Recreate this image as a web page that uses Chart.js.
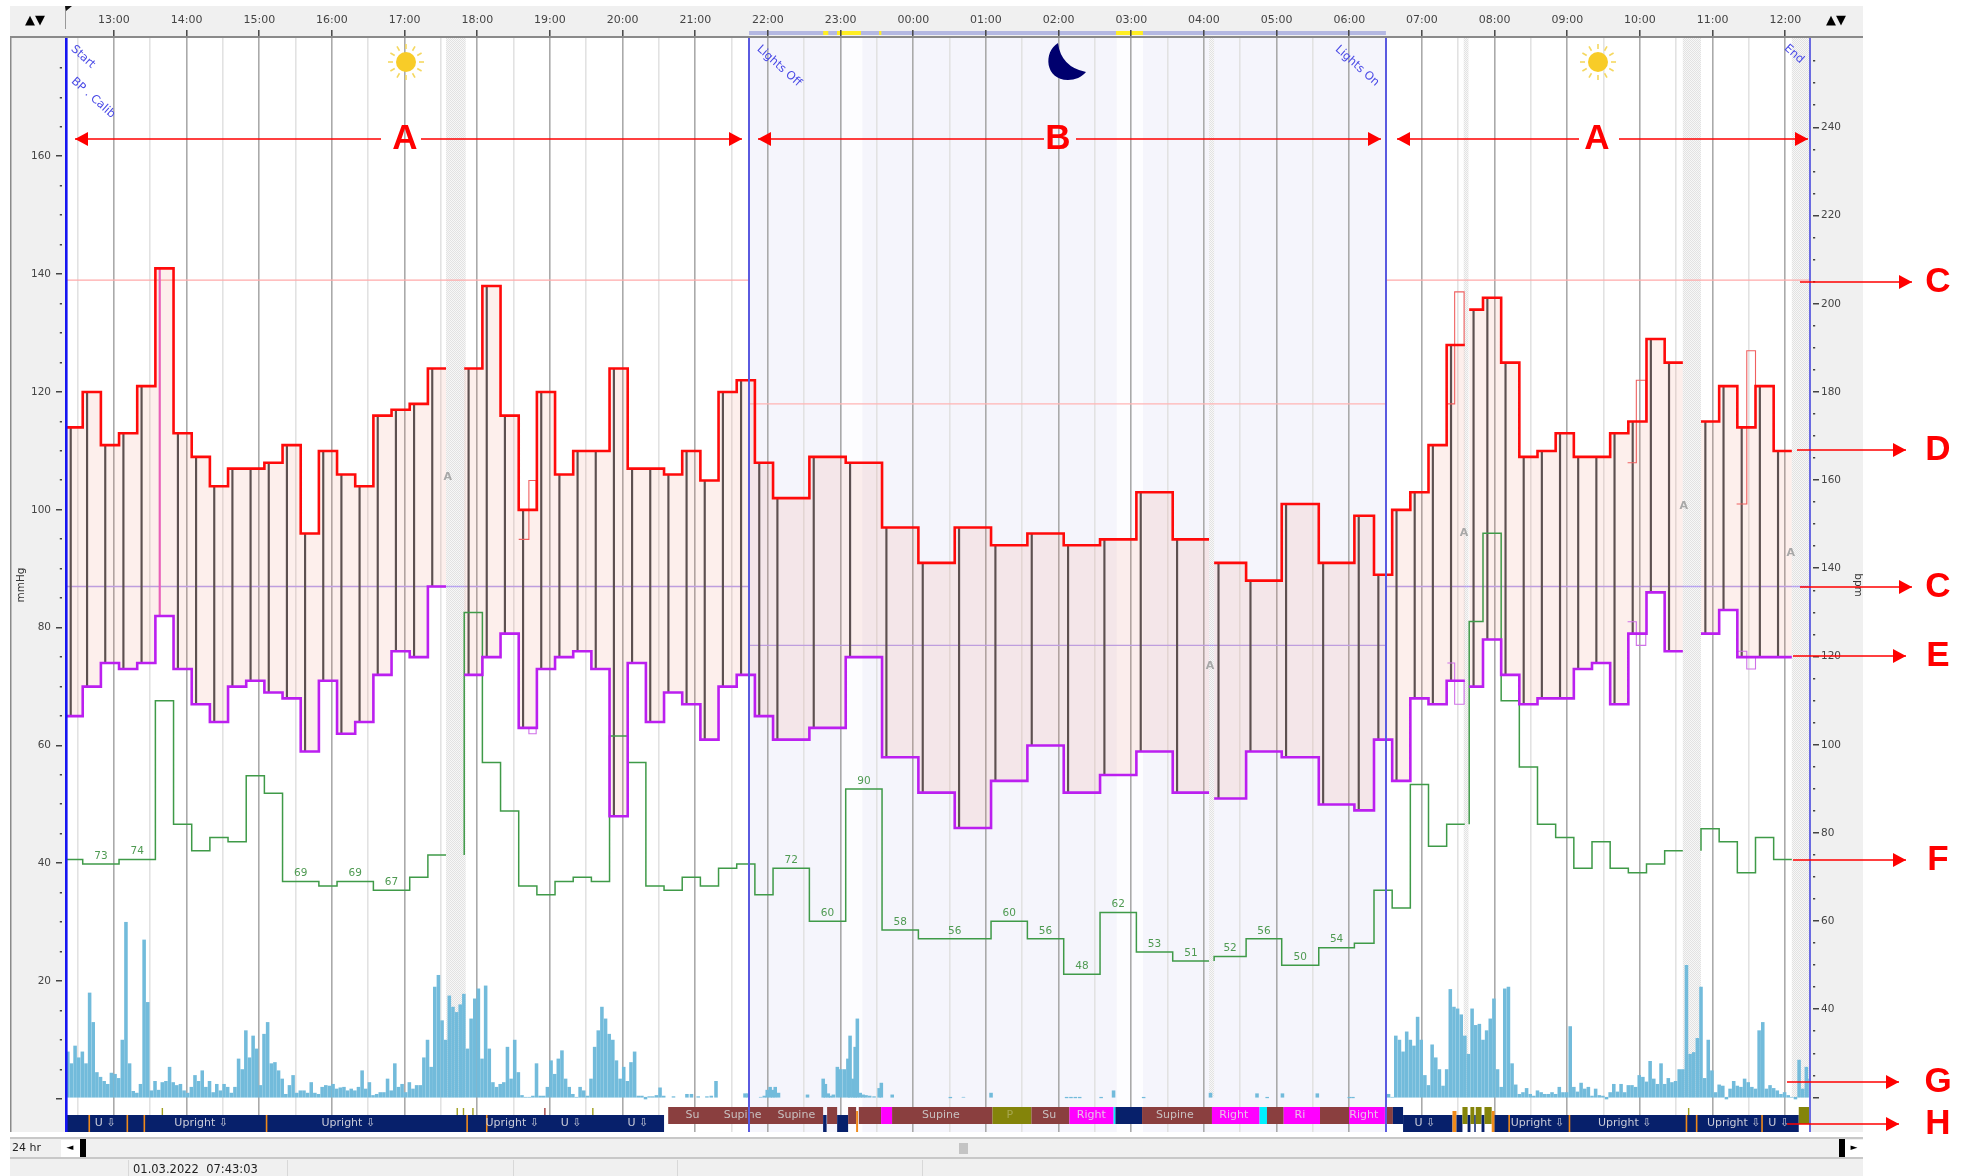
<!DOCTYPE html>
<html><head><meta charset="utf-8"><title>ABPM 24 hr</title>
<style>html,body{margin:0;padding:0;background:#fff}canvas{display:block}</style>
<script src="https://cdn.jsdelivr.net/npm/chart.js@4"></script></head>
<body><canvas id="c" width="1966" height="1176"></canvas>
<script>
// ---- readings (hours run on past 24 for the next morning) ----
const stepHours = [12.345,12.57,12.82,13.07,13.32,13.57,13.82,14.07,14.32,14.57,14.82,15.07,15.32,15.57,15.82,16.07,16.32,16.57,16.82,17.07,17.32,17.57,17.82,18.07,18.32,18.57,18.82,19.07,19.32,19.57,19.82,20.07,20.32,20.57,20.82,21.07,21.32,21.57,21.82,
 22.07,22.57,23.07,23.57,24.07,24.57,25.07,25.57,26.07,26.57,27.07,27.57,28.07,
 28.14,28.58,29.07,29.58,30.07,30.34,
 30.59,30.84,31.09,31.34,31.59,31.65,31.84,32.09,32.34,32.59,32.84,33.09,33.34,33.59,33.84,34.09,34.34,34.59,34.84,35.09,35.34,35.59,35.84];
const stepEnd = 36.09;
const systolic = [114,120,111,113,121,141,113,109,104,107,107,108,111,96,110,106,104,116,117,118,124,null,124,138,116,100,120,106,110,110,124,107,107,106,110,105,120,122,108,
 102,109,108,97,91,97,94,96,94,95,103,95,null,
 91,88,101,91,99,89,
 100,103,111,128,null,134,136,125,109,110,113,109,109,113,115,129,125,null,115,121,114,121,110];
const diastolic = [65,70,74,73,74,82,73,67,64,70,71,69,68,59,71,62,64,72,76,75,87,null,72,75,79,63,73,75,76,73,48,74,64,69,67,61,70,72,65,
 61,63,75,58,52,46,54,60,52,55,59,52,null,
 51,59,58,50,49,61,
 54,68,67,71,null,70,78,72,67,68,68,73,74,67,79,86,76,null,79,83,75,75,75];
const heartRate = [74,73,73,74,74,110,82,76,79,78,93,89,69,69,68,69,69,67,67,70,75,null,130,96,85,68,66,69,70,69,102,96,68,67,70,68,72,73,66,
 72,60,90,58,56,56,60,56,48,62,53,51,null,
 52,56,50,54,55,67,
 63,91,77,82,null,128,148,110,95,82,79,72,78,72,71,73,76,null,81,78,71,79,74];
const hrLabelIndex = [1,3,12,15,17,39,40,41,42,43,45,46,47,48,49,50,52,53,54,55];
const hrLabelSpan  = [2,2,2,2,2,1,1,1,1,2,1,1,1,1,1,1,1,1,1,1];
// excluded readings, thin outlines
const excludedHours = [18.57,18.71,18.81,18.81,null,31.35,31.45,31.58,31.58,null,33.83,33.95,34.08,34.08,null,35.33,35.47,35.59,35.59];
const excludedSys   = [95,105,105,100,null,118,137,137,128,null,108,122,122,115,null,101,127,127,121];
const excludedDia   = [63,62,62,63,null,74,67,67,71,null,81,77,77,79,null,76,73,73,75];
// activity, 3 minute bins
const activityDayStart = 12.365, activityMorningStart = 30.54, activityStep = 0.05;
const activityDay = [8,6,9,7,8,6,18,13,4.5,3.7,3,2.5,4.4,4.2,3.5,10,30,6,1.3,1,2.5,27,16.4,1.4,3,1.5,2.8,3,5.4,2.8,2.3,2.5,1.4,1,2,4,3,4.8,2,3,1.1,2.5,1.4,2.5,2,1,2,6.8,5,11.6,7,10.7,8.5,2.3,11,13,6,6.2,4.8,3.4,.8,2.3,4,1,1.4,1.4,1,2.8,1,.8,2,2.3,2.2,2.5,1.7,1.9,2,1.4,1.7,1.4,2,4.8,1.7,2.8,.6,.8,1.1,1.1,3.4,1.4,6,2,2.5,1.1,2.8,1.7,2.3,2.3,7,10,5.4,19,21,13.3,10,17.5,15.6,14.7,16,17.8,8.5,13.6,17,18.7,6.8,19.2,8.5,2.8,2,2.5,2.8,8.8,3.4,10,4.5,.6,.3,.3,.5,6,.5,.5,2,6.5,4.2,6.8,8.2,3.4,2,.8,.3,2,1.4,.5,3.4,8.8,11.6,15.6,13.6,11,10,6.5,3.4,5.4,3,6.2,8,.5,.5,0,.4,.4,.6,1.9,.5];
const activityNightHours = [20.70,20.885,20.947,21.04,21.16,21.22,21.285,21.684,21.727,21.90,21.95,21.99,22.03,22.065,22.10,22.145,22.544,22.76,22.79,22.83,22.86,22.90,22.955,23.0,23.05,23.10,23.13,23.17,23.2,23.23,23.27,23.31,23.35,23.4,23.46,23.53,23.56,23.71,24.51,24.69,25.07,26.11,26.17,26.23,26.29,26.585,26.756,27.17,28.09,28.73,28.87,29.08,29.56,30.0,30.05];
const activityNight = [.4,.8,.8,.4,.4,.5,3,.9,.9,.3,.5,1.5,2,1.5,2,1,.7,3.4,2.5,.9,.5,.7,5.4,5,5,6.8,10.7,3.4,8.8,13.6,1,.7,.6,.5,.4,1.8,2.7,.7,.2,.3,1,.2,.2,.2,.2,.2,1.4,.2,1,.9,.2,.9,.9,.2,.2];
const activityMorning = [.8,.3,10.7,10,8,11.4,10,9,13.9,10,4,2.3,9.2,7,5,2.2,5,18.6,15.6,15.3,14.3,10.7,7.6,15.3,12.5,12.7,10,11.6,13.6,17,5,2,18.7,19,6,2.4,.8,1.1,1.8,.8,.5,1.4,1.1,.8,.8,1.1,.8,2,1.1,1.1,12.3,2,1.2,2.7,1.7,2,.5,1.7,.6,.5,0,1.1,2.5,1.2,2.5,1.1,2.3,2.3,2,4,3.7,2.9,6.4,3.4,2.5,6,2.5,3.5,2.8,3,5,5,22.7,7.6,7.9,10.3,19,3.5,10,4.8,1.1,2.4,2.2,0,1.7,3,2.2,2,3.4,2.8,2,1.7,11.6,13,1.7,2.3,1.8,1.4,.8,1.1,.6,.3,0,6.6,1.7,5.4,3.4];
// period limits and thresholds
const axisStart = 12.34, axisEnd = 36.34, lightsOff = 21.74, lightsOn = 30.504;
const sysDayLimit = 139, diaDayLimit = 87, sysNightLimit = 118, diaNightLimit = 77;
const eventHours = [axisStart,lightsOff,lightsOn,axisEnd];
const hatchStart = [17.57,28.07,31.575,34.59,36.09];
const hatchEnd   = [17.84,28.14,31.64,34.84,36.34];
const dimStart = [23.02,26.80], dimEnd = [23.30,27.16];
const yellowStart = [22.76,22.95,23.53,26.79], yellowEnd = [22.83,23.28,23.56,27.16];
const artifactHours = [17.594,28.083,31.577,34.603,36.075];
const artifactMmHg  = [105.6,73.5,96.1,100.7,92.7];
// body position strip
const posStart = [12.345,20.627,22.759,22.814,22.952,23.103,23.213,23.25,23.557,23.708,25.09,25.626,26.149,26.757,26.782,27.148,28.11,28.765,28.867,29.097,29.597,29.996,30.504,30.6,30.74,31.42,31.475,31.557,31.628,31.667,31.72,31.74,31.82,31.86,31.96,32.0,36.185];
const posEnd   = [20.57,22.759,22.807,22.952,23.103,23.213,23.24,23.557,23.708,25.09,25.626,26.149,26.757,26.782,27.148,28.11,28.765,28.867,29.097,29.597,29.996,30.49,30.6,30.74,31.42,31.475,31.557,31.628,31.667,31.72,31.74,31.82,31.86,31.96,32.0,36.185,36.34];
const posKind  = ['U','S','U','S','U','S','O','S','R','S','P','S','R','C','N','S','R','C','S','R','S','R','S','N','U','O','U','P','U','P','U','P','U','P','O','U','P'];
const posMarkHours = [12.66,13.184,13.418,15.1,17.86,18.13,32.2,33.03,34.78,35.68,34.64];
const posTickHours = [13.666,17.724,17.81,17.94,19.59,34.67,18.93];
const posLabelHours = [12.88,14.2,16.225,18.48,19.29,20.21,20.96,21.65,22.39,24.38,25.33,25.87,26.45,27.6,28.41,29.32,30.2,31.04,32.59,33.79,35.29,35.91];
const posLabels = ['U ⇩','Upright ⇩','Upright ⇩','Upright ⇩','U ⇩','U ⇩','Su','Supine','Supine','Supine','P','Su','Right','Supine','Right','Ri','Right','U ⇩','Upright ⇩','Upright ⇩','Upright ⇩','U ⇩'];
const posLabelKind = ['U','U','U','U','U','U','S','S','S','S','P','S','R','S','R','R','R','U','U','U','U','U'];

// ---- helpers ----
const FONT = '"DejaVu Sans"';
function hourLabel(h){ const v=((h%24)+24)%24; return String(v).padStart(2,'0')+':00'; }
function steps(vals, stub){
  const out=[];
  vals.forEach((v,i)=>{
    const t=stepHours[i];
    if(v===null){ out.push({x:t,y:null}); return; }
    if(stub && i>1 && vals[i-1]===null) out.push({x:t,y:vals[i-2]});
    out.push({x:t,y:v});
    const next = i+1<vals.length ? stepHours[i+1] : stepEnd;
    if(i+1>=vals.length || vals[i+1]===null) out.push({x:next,y:v});
  });
  return out;
}
const pairs=(xs,ys)=>xs.map((x,i)=>({x:x===null?excludedHours[i-1]:x,y:ys[i]}));
const stems=stepHours.map((t,i)=>systolic[i]===null?null:{x:t+0.06,y:[diastolic[i],systolic[i]]}).filter(Boolean);
const stemPink=5;
const activityPts=[
  ...activityDay.map((v,i)=>({x:activityDayStart+i*activityStep,y:v})),
  ...activityNight.map((v,i)=>({x:activityNightHours[i],y:v})),
  ...activityMorning.map((v,i)=>({x:activityMorningStart+i*activityStep,y:v}))
];
const limitLine=(a,b,v)=>[{x:a,y:v},{x:b,y:v}];

const POS={U:'#07206b',N:'#07206b',S:'#8a3f3f',R:'#ff00ff',P:'#84840a',C:'#00f0ff',O:'#f08a1a'};

function makeHatch(ctx){
  const c=document.createElement('canvas');c.width=c.height=4;const g=c.getContext('2d');
  g.fillStyle='#f7f7f7';g.fillRect(0,0,4,4);g.fillStyle='#e2e2e2';
  g.fillRect(0,0,1,1);g.fillRect(2,0,1,1);g.fillRect(1,1,1,1);g.fillRect(3,1,1,1);g.fillRect(0,2,1,1);g.fillRect(2,2,1,1);g.fillRect(1,3,1,1);g.fillRect(3,3,1,1);
  return ctx.createPattern(c,'repeat');
}
function txt(ctx,s,x,y,font,color,align,base,rot){
  ctx.save();ctx.font=font;ctx.fillStyle=color;ctx.textAlign=align||'center';ctx.textBaseline=base||'middle';
  if(rot){ctx.translate(x,y);ctx.rotate(rot);ctx.fillText(s,0,0);}else ctx.fillText(s,x,y);
  ctx.restore();
}
function arrowHead(ctx,x,y,dir){
  ctx.beginPath();ctx.moveTo(x,y);ctx.lineTo(x-dir*13,y-7);ctx.lineTo(x-dir*13,y+7);ctx.closePath();ctx.fill();
}
function hArrow(ctx,x1,x2,y){
  ctx.strokeStyle='#ff0000';ctx.fillStyle='#ff0000';ctx.lineWidth=1.4;
  ctx.beginPath();ctx.moveTo(x1,y);ctx.lineTo(x2,y);ctx.stroke();
  arrowHead(ctx,x2,y,x2>x1?1:-1);
}
function sun(ctx,x,y){
  ctx.strokeStyle='#f5d860';ctx.lineWidth=1.6;
  for(let i=0;i<12;i++){const a=i*Math.PI/6;ctx.beginPath();ctx.moveTo(x+Math.cos(a)*13,y+Math.sin(a)*13);ctx.lineTo(x+Math.cos(a)*18,y+Math.sin(a)*18);ctx.stroke();}
  ctx.fillStyle='#f8cc28';ctx.beginPath();ctx.arc(x,y,10,0,Math.PI*2);ctx.fill();
}
function axisMarks(ctx,scale,x,dir){
  ctx.fillStyle='#444';
  scale.ticks.forEach(t=>{
    const y=scale.getPixelForValue(t.value);
    const major=t.value%20===0;
    const len=major?6:2.2;
    const px = dir<0 ? x-len : x;
    ctx.fillRect(px,Math.round(y)-1,len,1.5);
  });
}

const chromePlugin={
  id:'chrome',
  beforeDraw(chart){
    const ctx=chart.ctx,xs=chart.scales.x,a=chart.chartArea;
    ctx.save();
    ctx.fillStyle='#fff';ctx.fillRect(0,0,chart.width,chart.height);
    ctx.fillStyle='#f0f0f0';
    ctx.fillRect(10,6,1853,31);
    ctx.fillRect(10,37,a.left-10,a.bottom-37);
    ctx.fillRect(a.right,37,1863-a.right,a.bottom-37);
    ctx.fillRect(10,1139,1853,18);
    ctx.fillRect(10,1159,1853,17);
    // night
    const nL=xs.getPixelForValue(lightsOff),nR=xs.getPixelForValue(lightsOn);
    ctx.fillStyle='#f5f5fc';ctx.fillRect(nL,a.top,nR-nL,a.bottom-a.top);
    ctx.fillStyle='#fdfdff';
    dimStart.forEach((s,i)=>{const l=xs.getPixelForValue(s);ctx.fillRect(l,a.top,xs.getPixelForValue(dimEnd[i])-l,a.bottom-a.top);});
    // header period strip
    ctx.fillStyle='#b4b8e2';ctx.fillRect(nL,31,nR-nL,4);
    ctx.fillStyle='#ffee22';
    yellowStart.forEach((s,i)=>{const l=xs.getPixelForValue(s);ctx.fillRect(l,31,xs.getPixelForValue(yellowEnd[i])-l,4);});
    ctx.restore();
  },
  beforeDatasetsDraw(chart){
    const ctx=chart.ctx,xs=chart.scales.x,a=chart.chartArea;
    ctx.save();
    chart.$hatch=chart.$hatch||makeHatch(ctx);
    ctx.fillStyle=chart.$hatch;
    const b=chart.scales.y.getPixelForValue(0.3);
    hatchStart.forEach((s,i)=>{const l=xs.getPixelForValue(s);ctx.fillRect(l,a.top,xs.getPixelForValue(hatchEnd[i])-l,b-a.top);});
    ctx.restore();
  },
  afterDatasetsDraw(chart){
    const ctx=chart.ctx,xs=chart.scales.x,yl=chart.scales.y,yr=chart.scales.y1,a=chart.chartArea;
    ctx.save();
    // body position strip
    const upTop=1107,lowTop=1115,h=17;
    posTickHours.forEach((t,i)=>{const x=xs.getPixelForValue(t);ctx.fillStyle=i===6?'#a04040':'#a0a020';ctx.fillRect(x-.7,1108,1.4,8);ctx.fillStyle='#fff';ctx.fillRect(x-.7,1116,1.4,16);});
    posStart.forEach((s,i)=>{
      const k=posKind[i],l=xs.getPixelForValue(s),w=xs.getPixelForValue(posEnd[i])-l;
      if(k==='U'){ctx.fillStyle=POS.U;ctx.fillRect(l,lowTop,w,h);}
      else if(k==='O'){ctx.fillStyle=POS.O;ctx.fillRect(l,lowTop-4,w,h+4);}
      else{ctx.fillStyle=POS[k];ctx.fillRect(l,upTop,w,h);}
    });
    ctx.fillStyle=POS.O;
    posMarkHours.forEach(t=>ctx.fillRect(xs.getPixelForValue(t)-.8,lowTop,1.6,h));
    posLabels.forEach((s,i)=>{
      const k=posLabelKind[i];
      const col=k==='U'?'#c9cbd8':k==='S'?'#c8c0c0':k==='R'?'#e8c0e8':'#a8a850';
      txt(ctx,s,xs.getPixelForValue(posLabelHours[i]),k==='U'?1123.5:1115.5,'11px '+FONT,col);
    });
    // event lines
    const evCol=['#1515f0','#5a5ae0','#5a5ae0','#6a6ae0'];
    eventHours.forEach((t,i)=>{ctx.fillStyle=evCol[i];ctx.fillRect(Math.round(xs.getPixelForValue(t))-1,a.top,i===0?2.6:2,a.bottom-a.top);});
    // ticks at both value axes
    axisMarks(ctx,yl,a.left-4,-1);
    axisMarks(ctx,yr,a.right+3,1);
    // event names
    const r=Math.PI/4.3;
    txt(ctx,'Start',83,57,'11.5px '+FONT,'#4a4ae6','center','middle',r);
    txt(ctx,'BP . Calib',93,98,'11.5px '+FONT,'#4a4ae6','center','middle',r);
    txt(ctx,'Lights Off',779,66,'11.5px '+FONT,'#4a4ae6','center','middle',r);
    txt(ctx,'Lights On',1357,66,'11.5px '+FONT,'#4a4ae6','center','middle',r);
    txt(ctx,'End',1794,54,'11.5px '+FONT,'#4a4ae6','center','middle',r);
    // artefact flags
    artifactHours.forEach((t,i)=>txt(ctx,'A',xs.getPixelForValue(t),yl.getPixelForValue(artifactMmHg[i]),'bold 11px '+FONT,'#a8a8a8'));
    // heart-rate values
    hrLabelIndex.forEach((idx,i)=>{
      const n=hrLabelSpan[i],t0=stepHours[idx],t1=stepHours[idx+n]??stepEnd;
      txt(ctx,String(heartRate[idx]),xs.getPixelForValue((t0+t1)/2),yr.getPixelForValue(heartRate[idx])-8,'10.5px '+FONT,'#4f9a52');
    });
    ctx.restore();
  },
  afterDraw(chart){
    const ctx=chart.ctx,a=chart.chartArea;
    ctx.save();
    // frame lines
    ctx.fillStyle='#8a8a8a';ctx.fillRect(10,36,1853,2);ctx.fillRect(10,37,1.5,a.bottom-37);
    ctx.fillStyle='#c8c8c8';ctx.fillRect(10,1137,1853,2);ctx.fillRect(10,1157,1853,2);
    // header bits
    ctx.fillStyle='#999';ctx.fillRect(65,7,1,22);
    ctx.fillStyle='#111';ctx.beginPath();ctx.moveTo(65,6);ctx.lineTo(72,6);ctx.lineTo(66,11);ctx.closePath();ctx.fill();
    txt(ctx,'▲▼',35,21,'bold 13px '+FONT,'#000');
    txt(ctx,'▲▼',1836,21,'bold 13px '+FONT,'#000');
    // scroll bar
    ctx.fillStyle='#fff';ctx.fillRect(61,1140,19,17);
    txt(ctx,'◄',70,1148,'9px '+FONT,'#000');
    ctx.fillStyle='#000';ctx.fillRect(80,1139,6,18);ctx.fillRect(1839,1139,6,18);
    ctx.fillStyle='#fff';ctx.fillRect(1845,1140,18,17);
    txt(ctx,'►',1854,1148,'9px '+FONT,'#000');
    ctx.fillStyle='#c4c4c4';ctx.fillRect(959,1143,9,11);
    txt(ctx,'24 hr',12,1148,'11px '+FONT,'#222','left');
    ctx.fillStyle='#d8d8d8';[128,287,513,677,922].forEach(x=>ctx.fillRect(x,1160,1,16));
    txt(ctx,'01.03.2022  07:43:03',133,1170,'11.5px '+FONT,'#222','left');
    // sun & moon
    sun(ctx,406,62);sun(ctx,1598,62);
    ctx.fillStyle='#00006e';ctx.beginPath();ctx.moveTo(1058,43);
    ctx.bezierCurveTo(1043,52,1045,80,1068,80);ctx.bezierCurveTo(1075,80,1082,77,1086,72);
    ctx.quadraticCurveTo(1061,67,1058,43);ctx.closePath();ctx.fill();
    // annotations
    const Y=139;
    hArrow(ctx,381,75,Y);hArrow(ctx,421,742,Y);
    hArrow(ctx,1044,758,Y);hArrow(ctx,1076,1381,Y);
    hArrow(ctx,1579,1397,Y);hArrow(ctx,1619,1808,Y);
    const big='bold 35px "Liberation Sans"';
    txt(ctx,'A',405,139,big,'#ff0000');txt(ctx,'B',1058,139,big,'#ff0000');txt(ctx,'A',1597,139,big,'#ff0000');
    hArrow(ctx,1800,1912,282);txt(ctx,'C',1938,282,big,'#ff0000');
    hArrow(ctx,1797,1906,450);txt(ctx,'D',1938,450,big,'#ff0000');
    hArrow(ctx,1800,1912,587);txt(ctx,'C',1938,587,big,'#ff0000');
    hArrow(ctx,1793,1906,656);txt(ctx,'E',1938,656,big,'#ff0000');
    hArrow(ctx,1793,1906,860);txt(ctx,'F',1938,860,big,'#ff0000');
    hArrow(ctx,1787,1899,1082);txt(ctx,'G',1938,1082,big,'#ff0000');
    hArrow(ctx,1787,1899,1124);txt(ctx,'H',1938,1124,big,'#ff0000');
    ctx.restore();
  }
};

const lineBase={pointRadius:0,borderJoinStyle:'miter',borderCapStyle:'butt',stepped:'before',spanGaps:false,fill:false,tension:0};
const sysData=steps(systolic), diaData=steps(diastolic);
const datasets=[
  {type:'bar',label:'Activity',data:activityPts,yAxisID:'y',backgroundColor:'#72bbdb',barThickness:2.9,base:0.3,grouped:false,order:9},
  {type:'line',label:'Systolic limit',data:[{x:axisStart,y:sysDayLimit},{x:lightsOff,y:sysDayLimit},{x:lightsOff,y:null},{x:lightsOn,y:sysDayLimit},{x:axisEnd,y:sysDayLimit}],yAxisID:'y',borderColor:'#ffaaaa',borderWidth:1.4,pointRadius:0,order:8},
  {type:'line',label:'Diastolic limit',data:[{x:axisStart,y:diaDayLimit},{x:lightsOff,y:diaDayLimit},{x:lightsOff,y:null},{x:lightsOn,y:diaDayLimit},{x:axisEnd,y:diaDayLimit}],yAxisID:'y',borderColor:'#b8a4f0',borderWidth:1.4,pointRadius:0,order:8},
  {type:'line',label:'Night systolic limit',data:limitLine(lightsOff,lightsOn,sysNightLimit),yAxisID:'y',borderColor:'#ffb4b4',borderWidth:1.4,pointRadius:0,order:8},
  {type:'line',label:'Night diastolic limit',data:limitLine(lightsOff,lightsOn,diaNightLimit),yAxisID:'y',borderColor:'#b8a4f0',borderWidth:1.4,pointRadius:0,order:8},
  {type:'line',label:'Range',data:sysData,yAxisID:'y',...lineBase,borderWidth:0,borderColor:'transparent',backgroundColor:'rgba(240,110,90,0.115)',fill:{target:6},order:7},
  {type:'line',label:'Range base',data:diaData,yAxisID:'y',...lineBase,borderWidth:0,borderColor:'transparent',order:7},
  {type:'bar',label:'Stems',data:stems,yAxisID:'y',barThickness:1.5,grouped:false,backgroundColor:c=>c.dataIndex===stemPink?'#e860b8':'#5d5050',order:6},
  {type:'line',label:'Heart rate',data:steps(heartRate,true),yAxisID:'y1',...lineBase,borderColor:'#3f9a48',borderWidth:1.5,order:5},
  {type:'line',label:'Excluded systolic',data:pairs(excludedHours,excludedSys),yAxisID:'y',...lineBase,borderColor:'#f06060',borderWidth:1.1,order:4},
  {type:'line',label:'Excluded diastolic',data:pairs(excludedHours,excludedDia),yAxisID:'y',...lineBase,borderColor:'#cf70e8',borderWidth:1.1,order:4},
  {type:'line',label:'Diastolic',data:diaData,yAxisID:'y',...lineBase,borderColor:'#bb1ff0',borderWidth:2.6,order:3},
  {type:'line',label:'Systolic',data:sysData,yAxisID:'y',...lineBase,borderColor:'#ff0a0a',borderWidth:2.6,order:2}
];
const hourTicks=[];for(let h=12.5;h<36.3;h+=0.5)hourTicks.push(h);
const seq=(a,b)=>{const o=[];for(let v=a;v<=b;v+=5)o.push(v);return o;};

new Chart(document.getElementById('c'),{
  type:'line',
  data:{datasets},
  plugins:[chromePlugin],
  options:{
    responsive:false,animation:false,
    layout:{padding:{left:10,right:102,top:8,bottom:44}},
    plugins:{legend:{display:false},tooltip:{enabled:false},title:{display:false}},
    scales:{
      x:{type:'linear',position:'top',min:axisStart,max:axisEnd,offset:false,
        afterBuildTicks(s){s.ticks=hourTicks.map(v=>({value:v}));},
        afterFit(s){s.height=30;},
        grid:{offset:false,color:c=>c.tick&&c.tick.value%1===0?'#aaaaaa':'#e2e2e2',lineWidth:1.6,tickLength:8,tickColor:c=>c.tick&&c.tick.value%1===0?'#444':'transparent',tickWidth:1.5,drawTicks:true},
        border:{display:false},
        ticks:{autoSkip:false,maxRotation:0,padding:3,color:'#444',font:{family:FONT,size:11},
          callback:v=>v%1===0?hourLabel(v):''}
      },
      y:{type:'linear',position:'left',min:-5.6,max:180.1,
        afterBuildTicks(s){s.ticks=seq(0,175).map(v=>({value:v}));},
        afterFit(s){s.width=56;},
        grid:{display:false,drawOnChartArea:false,drawTicks:false},border:{display:false},
        title:{display:true,text:'mmHg',color:'#333',font:{family:FONT,size:10.5},padding:{top:5,bottom:0}},
        ticks:{autoSkip:false,padding:15,color:'#444',font:{family:FONT,size:10.5},callback:v=>(v%20===0&&v>0)?String(v):''}
      },
      y1:{type:'linear',position:'right',min:12.2,max:260.3,
        afterBuildTicks(s){s.ticks=seq(20,255).map(v=>({value:v}));},
        afterFit(s){s.width=54;},
        grid:{display:false,drawOnChartArea:false,drawTicks:false},border:{display:false},
        title:{display:true,text:'bpm',color:'#333',font:{family:FONT,size:10.5},padding:{top:0,bottom:4}},
        ticks:{autoSkip:false,padding:11,color:'#444',font:{family:FONT,size:10.5},callback:v=>(v%20===0&&v>=40)?String(v):''}
      }
    }
  }
});
</script></body></html>
